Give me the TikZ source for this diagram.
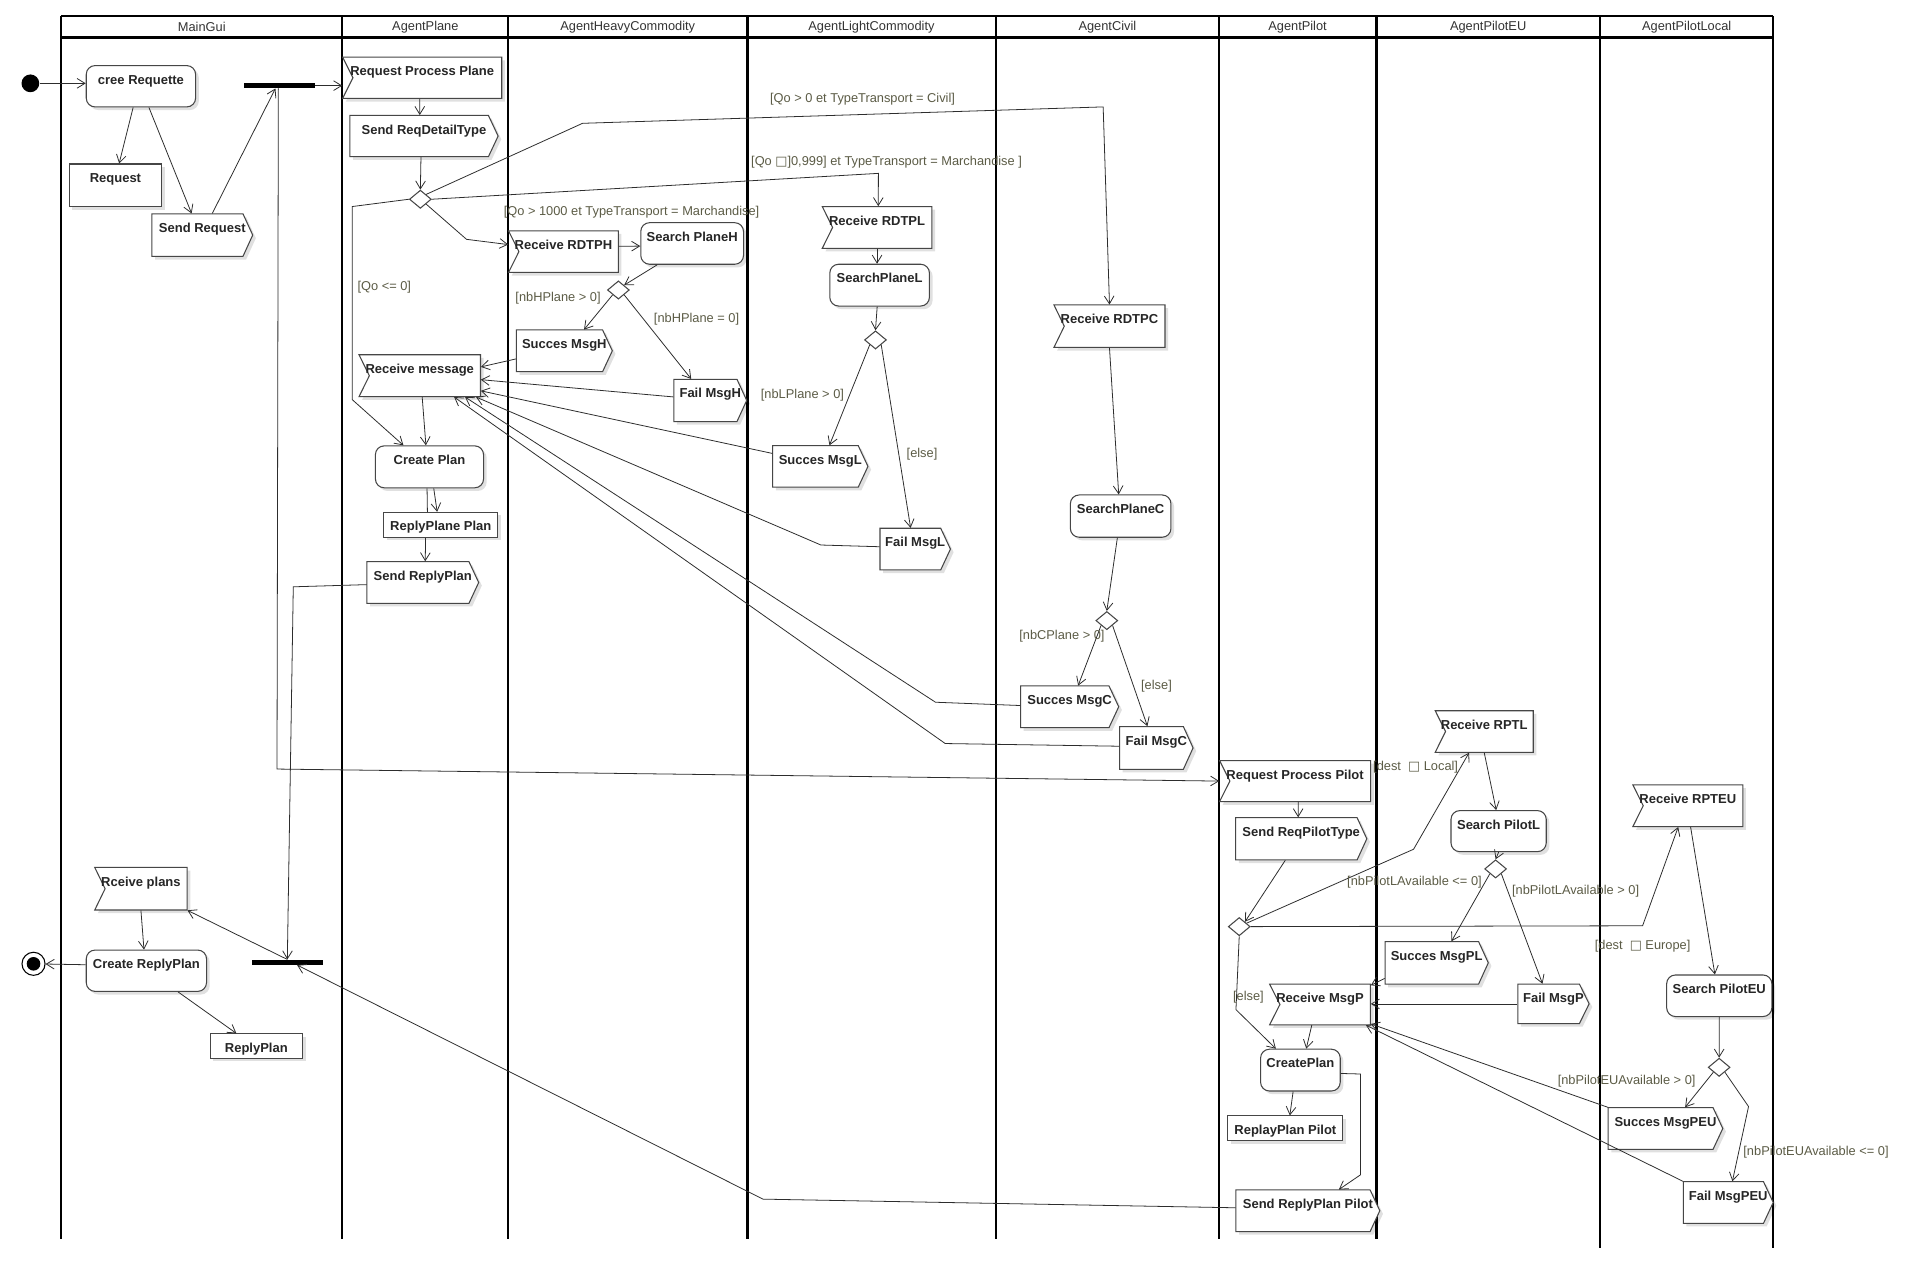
\documentclass[tikz,border=0pt]{standalone}
\usepackage{fontspec}
\setmainfont{Liberation Sans}
\newfontfamily\dvsans{DejaVu Sans}
\usetikzlibrary{calc,shapes.geometric,shadows,arrows.meta}
\definecolor{BoxLine}{RGB}{70,70,70}
\definecolor{FlowLine}{RGB}{45,45,45}
\definecolor{GuardText}{RGB}{92,92,70}
\definecolor{NodeText}{RGB}{38,38,38}
\def\ux{0.0243cm}

\newcommand\actbox[6]{%
  \node[act,box={#4}{#5}] (#1) at (#2+#4/2,#3+#5/2) {#6};}
\newcommand\objbox[6]{%
  \node[obj,box={#4}{#5}] (#1) at (#2+#4/2,#3+#5/2) {#6};}
\newcommand\sendbox[6]{%
  \fill[shd] (#2+2.6,#3+2.6) -- ++(#4-8,0) -- ++(8,#5/2) -- ++(-8,#5/2) -- ++(8-#4,0) -- cycle;
  \filldraw[sig] (#2,#3) -- ++(#4-8,0) -- ++(8,#5/2) -- ++(-8,#5/2) -- ++(8-#4,0) -- cycle;
  \node[sigtxt,box={#4}{#5}] (#1) at (#2+#4/2,#3+#5/2) {#6};}
\newcommand\recvbox[6]{%
  \fill[shd] (#2+2.6,#3+2.6) -- ++(#4,0) -- ++(0,#5) -- ++(-#4,0) -- ++(8.5,-#5/2) -- cycle;
  \filldraw[sig] (#2,#3) -- ++(#4,0) -- ++(0,#5) -- ++(-#4,0) -- ++(8.5,-#5/2) -- cycle;
  \node[sigtxt,box={#4}{#5}] (#1) at (#2+#4/2,#3+#5/2) {#6};}

\begin{document}
\begin{tikzpicture}[x=0.0243cm,y=-0.0243cm,
  box/.style 2 args={minimum width=#1*\ux,minimum height=#2*\ux,inner ysep=0pt,
    text height=10.6pt,text depth=#2*\ux-10.6pt},
  nodefont/.style={font=\fontsize{7.4}{8.8}\selectfont\bfseries,text=NodeText},
  act/.style={nodefont,draw=BoxLine,line width=.6pt,fill=white,rounded corners=5pt,
    drop shadow={shadow xshift=1.8pt,shadow yshift=-1.8pt,fill=black,opacity=.12}},
  obj/.style={nodefont,draw=BoxLine,line width=.6pt,fill=white,
    drop shadow={shadow xshift=1.8pt,shadow yshift=-1.8pt,fill=black,opacity=.12}},
  sig/.style={draw=BoxLine,line width=.6pt,fill=white},
  shd/.style={fill=black,opacity=.12},
  sigtxt/.style={nodefont,inner xsep=0pt},
  dec/.style={diamond,draw=BoxLine,line width=.6pt,fill=white,inner sep=0pt,
    minimum width=18*\ux,minimum height=15*\ux},
  bar/.style={rectangle,fill=black,inner sep=0pt,minimum width=58*\ux,minimum height=4*\ux},
  initst/.style={circle,fill=black,inner sep=0pt,minimum size=14.6*\ux},
  finst/.style={circle,draw=black,line width=.6pt,fill=white,inner sep=0pt,minimum size=19*\ux},
  lane/.style={draw=black,line width=1.1pt},
  hdr/.style={font=\fontsize{7.3}{8.5}\selectfont,text=black!80},
  guard/.style={font=\fontsize{7.3}{8.5}\selectfont,text=GuardText,inner sep=0pt,anchor=west},
  line/.style={draw=FlowLine,line width=.45pt},
  flow/.style={line,-{Straight Barb[length=4.5pt,width=5.5pt]}}]

\fill[white] (0,0) rectangle (1568,1038);
\useasboundingbox (0,0) rectangle (1568,1038);

\foreach \lx in {50.4,281.8,418.4,819.6,1003.4}
  \draw[lane] (\lx,13) -- (\lx,1020);
\foreach \lx in {615,1132.7}
  \draw[lane,line width=1.6pt] (\lx,13) -- (\lx,1020);
\foreach \lx in {1317,1459.5}
  \draw[lane] (\lx,13) -- (\lx,1027);
\draw[lane] (50.4,13) -- (1459.5,13);
\draw[lane,line width=1.5pt] (50.4,31) -- (1459.5,31);
\foreach \cx/\nm [count=\i] in {166.1/MainGui,350.1/AgentPlane,516.7/AgentHeavyCommodity,
  717.3/AgentLightCommodity,911.5/AgentCivil,1068/AgentPilot,1224.9/AgentPilotEU,1388.3/AgentPilotLocal}
  \node[hdr] (hd\i) at (\cx,22) {\nm};

\node[initst] (init) at (25,68.6) {};
\actbox{crq}{71}{54}{90}{34}{cree Requette}
\objbox{rqo}{57}{135}{76}{35}{Request}
\sendbox{srq}{125}{176}{83}{35}{Send Request}
\node[bar] (fork1) at (230,70.5) {};
\recvbox{rcp}{78}{714}{76}{35}{Rceive plans}
\actbox{crr}{71}{782}{99}{34}{Create ReplyPlan}
\objbox{rpl}{173}{851}{76}{20}{ReplyPlan}
\node[bar] (join1) at (236.5,792) {};
\node[finst] (fin) at (27.6,793.3) {};
\fill (fin) circle (5.6);

\recvbox{rpp}{282}{47}{131}{34}{Request Process Plane}
\sendbox{srd}{288}{95}{122}{34}{Send ReqDetailType}
\node[dec] (dec1) at (346,164) {};
\recvbox{rcm}{295.5}{292}{100}{34.5}{Receive message}
\actbox{cpl}{309}{367}{89}{34.5}{Create Plan}
\objbox{rpq}{316}{421.7}{93.6}{20.5}{ReplyPlane Plan}
\sendbox{srp}{302}{462.3}{92}{34.3}{Send ReplyPlan}

\recvbox{rdh}{418.6}{190}{90.3}{34.2}{Receive RDTPH}
\actbox{sph}{527.7}{183.3}{84}{34.2}{Search PlaneH}
\node[dec] (dec2) at (509,238.7) {};
\sendbox{smh}{425}{271.6}{79}{34.3}{Succes MsgH}
\sendbox{fmh}{554.6}{312.2}{60}{34.8}{Fail MsgH}

\recvbox{rdl}{676.8}{170}{90.2}{34.4}{Receive RDTPL}
\actbox{spl}{683}{217.5}{82}{34.4}{SearchPlaneL}
\node[dec] (dec3) at (720.6,279.8) {};
\sendbox{sml}{636}{366.8}{78.4}{34.2}{Succes MsgL}
\sendbox{fml}{724.3}{434.8}{58}{34.3}{Fail MsgL}

\recvbox{rdc}{867.5}{251}{91.4}{35}{Receive RDTPC}
\actbox{spc}{881}{407.4}{82.8}{34.8}{SearchPlaneC}
\node[dec] (dec4) at (911,510.8) {};
\sendbox{smc}{840}{564.6}{80.8}{34.3}{Succes MsgC}
\sendbox{fmc}{921.5}{598}{60.5}{35.2}{Fail MsgC}

\recvbox{rqp}{1003.8}{626}{124.4}{33.8}{Request Process Pilot}
\sendbox{srt}{1017}{673}{108}{34.8}{Send ReqPilotType}
\node[dec] (dec5) at (1020,762.7) {};
\recvbox{rmp}{1045}{810}{83}{33.5}{Receive MsgP}
\actbox{cpp}{1037.6}{863.6}{65.5}{34.4}{CreatePlan}
\objbox{rpt}{1010.6}{918.5}{94.7}{20.6}{ReplayPlan Pilot}
\sendbox{srpp}{1017.3}{979.4}{118.4}{34.3}{Send ReplyPlan Pilot}

\recvbox{rtl}{1181.3}{585}{80.7}{34.2}{Receive RPTL}
\actbox{spil}{1194.3}{667.2}{78.4}{33.8}{Search PilotL}
\node[dec] (dec6) at (1231,715.2) {};
\sendbox{smpl}{1140}{775}{85}{35}{Succes MsgPL}
\sendbox{fmp}{1249.3}{810}{58.7}{32.5}{Fail MsgP}

\recvbox{rteu}{1344}{646}{90.5}{34.4}{Receive RPTEU}
\actbox{speu}{1371.8}{802.5}{86.6}{34.2}{Search PilotEU}
\node[dec] (dec7) at (1415,878.5) {};
\sendbox{smpe}{1323.7}{911.7}{94.3}{34.3}{Succes MsgPEU}
\sendbox{fmpe}{1385.5}{972.6}{74}{34.3}{Fail MsgPEU}

\draw[flow] (init) -- (init -| crq.west);
\draw[flow] ($(crq.south west)+(39,0)$) -- ($(rqo.north west)+(41.5,0)$);
\draw[flow] ($(crq.south west)+(52,0)$) -- ($(srq.north west)+(33,0)$);
\draw[flow] ($(srq.north west)+(50,0)$) -- ($(fork1.south west)+(26,0)$);
\draw[flow] (fork1.east) -- (fork1.east -| rpp.west);
\draw[flow] ($(fork1.south west)+(28.4,0)$) -- (228,633) -- (rqp.west);

\draw[flow] ($(rpp.south)+(-2,0)$) -- ($(srd.north)+(-3.5,0)$);
\draw[flow] ($(srd.south)+(-2.5,0)$) -- (dec1.north);
\draw[flow] (dec1.south east) -- (384,197) -- ($(rdh.north west)+(0,11.6)$);
\draw[flow] (dec1.east) -- (723,142.7) -- ($(rdl.north)+(1,0)$);
\draw[flow] (dec1.north east) -- (479.5,101.5) -- (908,88) -- (rdc.north);
\draw[flow] (dec1.west) -- (290,170) -- (290,329) -- ($(cpl.north west)+(23.5,0)$);

\draw[flow] ($(rdh.north east)+(0,13)$) -- ($(sph.north west)+(0,19.7)$);
\draw[flow] ($(sph.south west)+(14,0)$) -- (dec2.north east);
\draw[flow] (dec2.south west) -- ($(smh.north west)+(56,0)$);
\draw[flow] (dec2.south east) -- ($(fmh.north west)+(14.6,0)$);
\draw[flow] ($(smh.north west)+(0,24.1)$) -- ($(rcm.north east)+(0,10.3)$);
\draw[flow] ($(fmh.north west)+(0,14.8)$) -- ($(rcm.north east)+(0,20.8)$);

\draw[flow] (rdl.south) -- (rdl.south |- spl.north);
\draw[flow] ($(spl.south)+(-2,0)$) -- (dec3.north);
\draw[flow] (dec3.south west) -- ($(sml.north west)+(47,0)$);
\draw[flow] (dec3.south east) -- ($(fml.north west)+(25.5,0)$);
\draw[flow] ($(sml.north west)+(0,6.7)$) -- ($(rcm.north east)+(0,30)$);
\draw[flow] ($(fml.north west)+(0,15.5)$) -- (675.7,448.6) -- ($(rcm.south east)+(-4,0)$);

\draw[flow] (rdc.south) -- ($(spc.north)+(-1.6,0)$);
\draw[flow] ($(spc.south)+(-2.7,0)$) -- (dec4.north);
\draw[flow] (dec4.south west) -- ($(smc.north west)+(47.7,0)$);
\draw[flow] (dec4.south east) -- ($(fmc.north west)+(23.2,0)$);
\draw[flow] ($(smc.north west)+(0,16.4)$) -- (770,578) -- ($(rcm.south east)+(-13,0)$);
\draw[flow] ($(fmc.north west)+(0,16.5)$) -- (778,612) -- ($(rcm.south east)+(-22,0)$);

\draw[flow] ($(rcm.south)+(2,0)$) -- ($(cpl.north west)+(42,0)$);
\draw[line] ($(cpl.south)+(-2,0)$) -- ($(rpq.north)+(-11,0)$);
\draw[flow] ($(cpl.south)+(3.5,0)$) -- ($(rpq.north)+(-3,0)$);
\draw[flow] ($(rpq.south)+(-12.5,0)$) -- ($(srp.north)+(2,0)$);
\draw[flow] ($(srp.north west)+(0,19.2)$) -- (241.4,483) -- (join1.north);
\draw[flow] ($(srpp.north west)+(0,15)$) -- (628,987) -- ($(join1.south)+(8,0)$);
\draw[flow] (join1.north) -- (rcp.south east);
\draw[flow] (rcp.south) -- ($(crr.north)+(-2,0)$);
\draw[flow] ($(crr.north west)+(0,12.5)$) -- (fin);
\draw[flow] ($(crr.south west)+(76,0)$) -- ($(rpl.north west)+(22,0)$);

\draw[flow] ($(rqp.south)+(2.5,0)$) -- ($(srt.north)+(-2.5,0)$);
\draw[flow] ($(srt.south west)+(41.2,0)$) -- (dec5.north east);
\draw[flow] (dec5.25) -- (1163.5,699) -- ($(rtl.south west)+(28.2,0)$);
\draw[flow] (dec5.east) -- (1352,762) -- ($(rteu.south west)+(37.6,0)$);
\draw[flow] (dec5.south) -- (1017.3,831) -- ($(cpp.north west)+(13,0)$);
\draw[flow] ($(rmp.south west)+(35,0)$) -- ($(cpp.north west)+(38,0)$);
\draw[flow] ($(cpp.south)+(-6,0)$) -- ($(rpt.north)+(3.7,0)$);
\draw[flow] ($(cpp.north east)+(0,20.4)$) -- (1119.8,884) -- (1119.8,967) -- ($(srpp.north west)+(85,0)$);
\draw[flow] (rtl.south) -- ($(spil.north)+(-2,0)$);
\draw[flow] (spil.south) -- (dec6.north);
\draw[flow] (dec6.south west) -- ($(smpl.north west)+(55,0)$);
\draw[flow] (dec6.south east) -- ($(fmp.north west)+(20.6,0)$);
\draw[flow] ($(smpl.south west)+(0,-5)$) -- ($(rmp.north east)+(0,1.3)$);
\draw[flow] ($(fmp.north west)+(0,16.6)$) -- ($(rmp.north east)+(0,16.6)$);
\draw[flow] ($(rteu.south west)+(47.8,0)$) -- ($(speu.north)+(-3.6,0)$);
\draw[flow] (speu.south) -- (dec7.north);
\draw[flow] (dec7.south west) -- ($(smpe.north west)+(63.6,0)$);
\draw[flow] (dec7.south east) -- (1439.2,910.8) -- ($(fmpe.north west)+(40.7,0)$);
\draw[flow] (smpe.north west) -- ($(rmp.south east)+(0,-1)$);
\draw[flow] (fmpe.north west) -- ($(rmp.south east)+(-4,0)$);

\node[guard] (gq1) at (414.4,175) {[Qo > 1000 et TypeTransport = Marchandise]};
\node[guard] (gq2) at (633.6,81.8) {[Qo > 0 et TypeTransport = Civil]};
\node[guard] (gq3) at (618,133.9) {[Qo {\dvsans □}]0,999] et TypeTransport = Marchandise ]};
\node[guard] (gq4) at (294,236) {[Qo <= 0]};
\node[guard] (gh1) at (424,245.5) {[nbHPlane > 0]};
\node[guard] (gh2) at (538,262.8) {[nbHPlane = 0]};
\node[guard] (gl1) at (626,325) {[nbLPlane > 0]};
\node[guard] (gl2) at (746,373.7) {[else]};
\node[guard] (gc1) at (838.7,524) {[nbCPlane > 0]};
\node[guard] (gc2) at (939,565.2) {[else]};
\node[guard] (gd1) at (1130,631.8) {[dest\ \ {\dvsans □} Local]};
\node[guard] (gd2) at (1312.4,778.6) {[dest\ \ {\dvsans □} Europe]};
\node[guard] (gd3) at (1014.7,820.8) {[else]};
\node[guard] (gp1) at (1108.6,726.2) {[nbPilotLAvailable <= 0]};
\node[guard] (gp2) at (1244.3,733.9) {[nbPilotLAvailable > 0]};
\node[guard] (ge1) at (1281.9,889.5) {[nbPilotEUAvailable > 0]};
\node[guard] (ge2) at (1434.7,948.7) {[nbPilotEUAvailable <= 0]};

\end{tikzpicture}
\end{document}
